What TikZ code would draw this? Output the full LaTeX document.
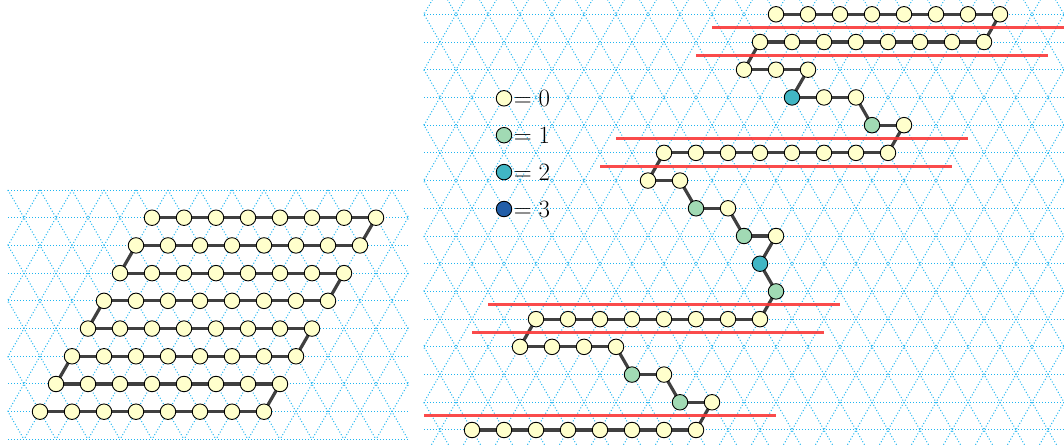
\documentclass[tikz,border=0pt]{standalone}
\usetikzlibrary{calc}
\definecolor{cz}{HTML}{FFFFCC}
\definecolor{co}{HTML}{A1DAB4}
\definecolor{ct}{HTML}{41B6C4}
\definecolor{cb}{HTML}{225EA8}
\definecolor{gridc}{RGB}{30,180,240}
\definecolor{redl}{RGB}{250,55,55}
\pgfdeclarelayer{gridlayer}
\pgfdeclarelayer{edgelayer}
\pgfdeclarelayer{toplayer}
\pgfsetlayers{gridlayer,edgelayer,main,toplayer}
\tikzset{
  site/.style={circle, draw=black, line width=0.9pt, minimum size=15.5pt, inner sep=0pt, fill=cz},
  bond/.style={draw=black!75, line width=3.2pt},
  gridline/.style={draw=gridc, line width=1pt, dash pattern=on 1pt off 2pt},
  cutline/.style={draw=redl, line width=3pt, opacity=0.9},
  legtext/.style={anchor=west, inner sep=1.5pt, font=\fontsize{27}{32}\selectfont},
}
\def\h{27.7128}
\begin{document}
\begin{tikzpicture}[x=1pt,y=-1pt]
\useasboundingbox (0,0) rectangle (1064,444);

% ---------- grids ----------
\begin{pgfonlayer}{gridlayer}
\begin{scope}
  \clip (7.5,189.5) rectangle (408.5,440);
  \foreach \k in {0,...,9} \draw[gridline] (8,{190+\k*\h}) -- (408,{190+\k*\h});
  \foreach \m in {-6,...,18} {
    \draw[gridline] ({8+32*\m},190) -- ++(144,{9*\h});
    \draw[gridline] ({8+32*\m},190) -- ++(-144,{9*\h});
  }
\end{scope}
\begin{scope}
  \clip (423.5,0) rectangle (1064,444);
  \foreach \k in {0,...,15} \draw[gridline] (424,{14.3+\k*\h}) -- (1064,{14.3+\k*\h});
  \foreach \m in {-10,...,30} {
    \draw[gridline] ({424+32*\m-16},{14.3-\h}) -- ++(272,{17*\h});
    \draw[gridline] ({424+32*\m+16},{14.3-\h}) -- ++(-272,{17*\h});
  }
\end{scope}
\end{pgfonlayer}

% ---------- left chain ----------
\foreach \i in {0,...,7} {
  \foreach \j in {0,...,7} {
    \node[site] (L\i-\j) at ({152-16*\i+32*\j},{190+(\i+1)*\h}) {};
  }
}
\begin{pgfonlayer}{edgelayer}
  \foreach \i in {0,...,7} {
    \foreach \j in {0,...,6} {
      \pgfmathtruncatemacro\jj{\j+1}
      \draw[bond] (L\i-\j.center) -- (L\i-\jj.center);
    }
  }
  \foreach \i in {0,2,4,6} {
    \pgfmathtruncatemacro\ii{\i+1}
    \draw[bond] (L\i-7.center) -- (L\ii-7.center);
  }
  \foreach \i in {1,3,5} {
    \pgfmathtruncatemacro\ii{\i+1}
    \draw[bond] (L\i-0.center) -- (L\ii-0.center);
  }
\end{pgfonlayer}

% ---------- right chain ----------
\foreach [count=\n] \x/\r/\c in {
  776/0/cz, 808/0/cz, 840/0/cz, 872/0/cz, 904/0/cz, 936/0/cz, 968/0/cz, 1000/0/cz,
  984/1/cz, 952/1/cz, 920/1/cz, 888/1/cz, 856/1/cz, 824/1/cz, 792/1/cz, 760/1/cz,
  744/2/cz, 776/2/cz, 808/2/cz,
  792/3/ct, 824/3/cz, 856/3/cz,
  872/4/co, 904/4/cz,
  888/5/cz, 856/5/cz, 824/5/cz, 792/5/cz, 760/5/cz, 728/5/cz, 696/5/cz, 664/5/cz,
  648/6/cz, 680/6/cz,
  696/7/co, 728/7/cz,
  744/8/co, 776/8/cz,
  760/9/ct,
  776/10/co,
  760/11/cz, 728/11/cz, 696/11/cz, 664/11/cz, 632/11/cz, 600/11/cz, 568/11/cz, 536/11/cz,
  520/12/cz, 552/12/cz, 584/12/cz, 616/12/cz,
  632/13/co, 664/13/cz,
  680/14/co, 712/14/cz,
  696/15/cz, 664/15/cz, 632/15/cz, 600/15/cz, 568/15/cz, 536/15/cz, 504/15/cz, 472/15/cz} {
  \node[site, fill=\c] (R\n) at (\x,{14.3+\r*\h}) {};
}
\begin{pgfonlayer}{edgelayer}
  \foreach \n in {1,...,63} {
    \pgfmathtruncatemacro\mm{\n+1}
    \draw[bond] (R\n.center) -- (R\mm.center);
  }
\end{pgfonlayer}

% ---------- red cut lines ----------
\begin{pgfonlayer}{toplayer}
  \foreach \a/\r in {712/0.5, 696/1.5, 616/4.5, 600/5.5, 488/10.5, 472/11.5, 424/14.5} {
    \draw[cutline] (\a,{14.3+\r*\h-0.5}) -- ({\a+352},{14.3+\r*\h-0.5});
  }
\end{pgfonlayer}

% ---------- legend ----------
\foreach \k/\c in {0/cz, 1/co, 2/ct, 3/cb} {
  \node[site, fill=\c] (Lg\k) at (504,{98.3+\k*36.9}) {};
  \node[legtext] (Lt\k) at (Lg\k.east) {$=\k$};
}
\end{tikzpicture}
\end{document}
